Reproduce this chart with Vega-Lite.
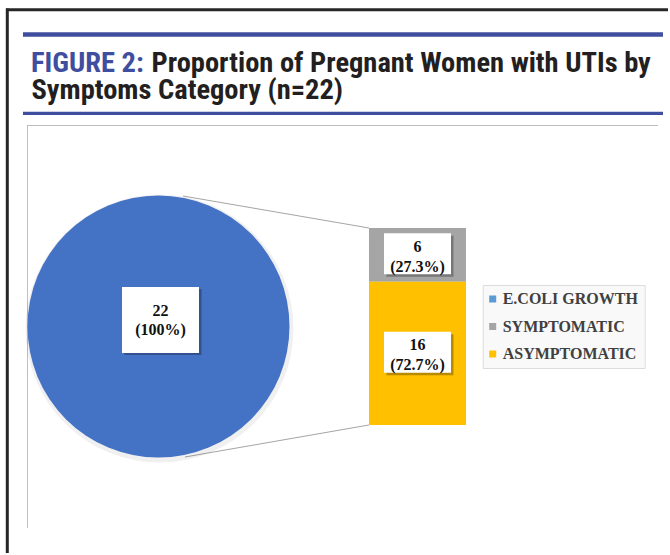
{
  "$schema": "https://vega.github.io/schema/vega-lite/v6.json",
  "width": 670,
  "height": 555,
  "autosize": {"type": "none"},
  "padding": 0,
  "background": "white",
  "config": {"view": {"stroke": null}, "axis": {"disable": true, "domain": false, "ticks": false, "labels": false, "grid": false, "titleOpacity": 0}},
  "data": {
    "values": [
      {"category": "E.COLI GROWTH", "group": "E.COLI GROWTH", "count": 22, "pct": "(100%)"},
      {"category": "SYMPTOMATIC", "group": "BY SYMPTOMS", "count": 6, "pct": "(27.3%)"},
      {"category": "ASYMPTOMATIC", "group": "BY SYMPTOMS", "count": 16, "pct": "(72.7%)"}
    ]
  },
  "encoding": {
    "x": {
      "field": "group", "type": "nominal", "axis": null,
      "scale": {"domain": ["E.COLI GROWTH", "BY SYMPTOMS"], "paddingInner": 0.6255, "paddingOuter": 0.6062, "align": 0.3503}
    }
  },
  "layer": [
    {
      "data": {"values": [{}]},
      "mark": {"type": "rule", "color": "#262626", "strokeWidth": 3, "xOffset": -152.5, "x2Offset": 250.5, "yOffset": -218.3},
      "encoding": {
        "x": {"datum": "E.COLI GROWTH", "type": "nominal"},
        "x2": {"datum": "BY SYMPTOMS"},
        "y": {"datum": 22, "type": "quantitative", "axis": null}
      }
    },
    {
      "data": {"values": [{}]},
      "mark": {"type": "rule", "color": "#262626", "strokeWidth": 3, "xOffset": -151.2, "yOffset": -219.5, "y2Offset": 128},
      "encoding": {
        "x": {"datum": "E.COLI GROWTH", "type": "nominal"},
        "y": {"datum": 22, "type": "quantitative", "axis": null},
        "y2": {"datum": 0}
      }
    },
    {
      "data": {"values": [{}]},
      "mark": {"type": "rule", "color": "#3f4e9e", "strokeWidth": 4.5, "xOffset": -135.5, "x2Offset": 245.5, "yOffset": -193.6},
      "encoding": {
        "x": {"datum": "E.COLI GROWTH", "type": "nominal"},
        "x2": {"datum": "BY SYMPTOMS"},
        "y": {"datum": 22, "type": "quantitative", "axis": null}
      }
    },
    {
      "data": {"values": [{}]},
      "mark": {"type": "rule", "color": "#3f4e9e", "strokeWidth": 3.3, "xOffset": -135.5, "x2Offset": 245.5, "yOffset": -114.7},
      "encoding": {
        "x": {"datum": "E.COLI GROWTH", "type": "nominal"},
        "x2": {"datum": "BY SYMPTOMS"},
        "y": {"datum": 22, "type": "quantitative", "axis": null}
      }
    },
    {
      "data": {"values": [{}]},
      "mark": {"type": "rule", "color": "#bfbfbf", "strokeWidth": 1, "xOffset": -131.5, "x2Offset": 240.5, "yOffset": -102.5},
      "encoding": {
        "x": {"datum": "E.COLI GROWTH", "type": "nominal"},
        "x2": {"datum": "BY SYMPTOMS"},
        "y": {"datum": 22, "type": "quantitative", "axis": null}
      }
    },
    {
      "data": {"values": [{}]},
      "mark": {"type": "rule", "color": "#bfbfbf", "strokeWidth": 1, "xOffset": -131, "yOffset": -103, "y2Offset": 103},
      "encoding": {
        "x": {"datum": "E.COLI GROWTH", "type": "nominal"},
        "y": {"datum": 22, "type": "quantitative", "axis": null},
        "y2": {"datum": 0}
      }
    },
    {
      "data": {"values": [{}]},
      "mark": {"type": "text", "text": "FIGURE 2:", "font": "Liberation Sans Narrow, Roboto Condensed, DejaVu Sans Condensed, sans-serif", "fontSize": 28.5, "fontWeight": "bold", "color": "#3f4e9e", "align": "left", "baseline": "alphabetic", "xOffset": -127.5, "yOffset": -156},
      "encoding": {
        "x": {"datum": "E.COLI GROWTH", "type": "nominal"},
        "y": {"datum": 22, "type": "quantitative", "axis": null}
      }
    },
    {
      "data": {"values": [{}]},
      "mark": {"type": "text", "text": "Proportion of Pregnant Women with UTIs by", "font": "Liberation Sans Narrow, Roboto Condensed, DejaVu Sans Condensed, sans-serif", "fontSize": 28.5, "fontWeight": "bold", "color": "#231f20", "align": "left", "baseline": "alphabetic", "xOffset": -7, "yOffset": -156},
      "encoding": {
        "x": {"datum": "E.COLI GROWTH", "type": "nominal"},
        "y": {"datum": 22, "type": "quantitative", "axis": null}
      }
    },
    {
      "data": {"values": [{}]},
      "mark": {"type": "text", "text": "Symptoms Category (n=22)", "font": "Liberation Sans Narrow, Roboto Condensed, DejaVu Sans Condensed, sans-serif", "fontSize": 28.5, "fontWeight": "bold", "color": "#231f20", "align": "left", "baseline": "alphabetic", "xOffset": -127, "yOffset": -129},
      "encoding": {
        "x": {"datum": "E.COLI GROWTH", "type": "nominal"},
        "y": {"datum": 22, "type": "quantitative", "axis": null}
      }
    },
    {
      "data": {"values": [{}]},
      "mark": {"type": "rule", "color": "#a5a5a5", "strokeWidth": 1, "xOffset": 24.5, "yOffset": -130.5, "x2Offset": -48.5},
      "encoding": {
        "x": {"datum": "E.COLI GROWTH", "type": "nominal"},
        "x2": {"datum": "BY SYMPTOMS"},
        "y": {"datum": 11, "type": "quantitative", "axis": null},
        "y2": {"datum": 22}
      }
    },
    {
      "data": {"values": [{}]},
      "mark": {"type": "rule", "color": "#a5a5a5", "strokeWidth": 1, "xOffset": 26.5, "yOffset": 130.5, "x2Offset": -48.5},
      "encoding": {
        "x": {"datum": "E.COLI GROWTH", "type": "nominal"},
        "x2": {"datum": "BY SYMPTOMS"},
        "y": {"datum": 11, "type": "quantitative", "axis": null},
        "y2": {"datum": 0}
      }
    },
    {
      "transform": [{"filter": "datum.group == 'BY SYMPTOMS'"}],
      "mark": {"type": "bar"},
      "encoding": {
        "y": {
          "field": "count", "type": "quantitative", "stack": "zero", "axis": null,
          "scale": {"domain": [-14.518, 47.462], "nice": false, "zero": false}
        },
        "color": {
          "field": "category", "type": "nominal",
          "scale": {"domain": ["E.COLI GROWTH", "SYMPTOMATIC", "ASYMPTOMATIC"], "range": ["#5B9BD5", "#A5A5A5", "#FFC000"]},
          "legend": {
            "orient": "none", "legendX": 482.7, "legendY": 285, "direction": "vertical", "title": null,
            "padding": 6, "fillColor": "#f9f9f9", "strokeColor": "#dcdcdc",
            "symbolType": "square", "symbolSize": 49, "symbolStrokeWidth": 0, "symbolOpacity": 1, "symbolOffset": -4,
            "labelFont": "Liberation Serif", "labelFontSize": 16, "labelFontWeight": "bold", "labelColor": "#404040",
            "rowPadding": 11.5, "labelOffset": 2
          }
        },
        "order": {"field": "category", "type": "nominal", "sort": "ascending"}
      }
    },
    {
      "transform": [
        {"stack": "count", "groupby": ["group"], "sort": [{"field": "category", "order": "ascending"}], "as": ["y0", "y1"]},
        {"fold": ["y0", "y1"], "as": ["edge", "ypos"]},
        {"aggregate": [{"op": "mean", "field": "ypos", "as": "ymid"}], "groupby": ["category", "group", "count", "pct"]}
      ],
      "encoding": {
        "y": {"field": "ymid", "type": "quantitative", "axis": null}
      },
      "layer": [
        {
          "transform": [{"filter": "datum.group == 'E.COLI GROWTH'"}],
          "mark": {"type": "arc", "radius": 134, "color": "#000000", "opacity": 0.06, "xOffset": 1, "yOffset": 2},
          "encoding": {"theta": {"field": "count", "type": "quantitative"}}
        },
        {
          "transform": [{"filter": "datum.group == 'E.COLI GROWTH'"}],
          "mark": {"type": "arc", "radius": 131, "color": "#4472C4"},
          "encoding": {"theta": {"field": "count", "type": "quantitative"}}
        },
        {
          "transform": [{"filter": "datum.group == 'BY SYMPTOMS'"}],
          "mark": {"type": "point", "shape": "M-1,-0.612H1V0.612H-1Z", "size": 4489, "filled": true, "color": "#000000", "opacity": 0.28, "strokeWidth": 0, "xOffset": 2.5, "yOffset": 1.5},
          "encoding": {"y": {"field": "ymid", "type": "quantitative", "axis": null}}
        },
        {
          "transform": [{"filter": "datum.group == 'BY SYMPTOMS'"}],
          "mark": {"type": "point", "shape": "M-1,-0.612H1V0.612H-1Z", "size": 4489, "filled": true, "color": "#ffffff", "opacity": 1, "strokeWidth": 0, "yOffset": -1},
          "encoding": {"y": {"field": "ymid", "type": "quantitative", "axis": null}}
        },
        {
          "transform": [{"filter": "datum.group == 'E.COLI GROWTH'"}],
          "mark": {"type": "point", "shape": "M-1,-0.857H1V0.857H-1Z", "size": 5929, "filled": true, "color": "#000000", "opacity": 0.28, "strokeWidth": 0, "xOffset": 4.5, "yOffset": -4.5},
          "encoding": {"y": {"field": "ymid", "type": "quantitative", "axis": null}}
        },
        {
          "transform": [{"filter": "datum.group == 'E.COLI GROWTH'"}],
          "mark": {"type": "point", "shape": "M-1,-0.857H1V0.857H-1Z", "size": 5929, "filled": true, "color": "#ffffff", "opacity": 1, "strokeWidth": 0, "xOffset": 2, "yOffset": -6.6},
          "encoding": {"y": {"field": "ymid", "type": "quantitative", "axis": null}}
        },
        {
          "transform": [{"filter": "datum.group == 'BY SYMPTOMS'"}],
          "mark": {"type": "text", "font": "Liberation Serif", "fontWeight": "bold", "fontSize": 16, "color": "#111111", "baseline": "alphabetic", "align": "center", "yOffset": -3},
          "encoding": {"text": {"field": "count", "type": "quantitative"}}
        },
        {
          "transform": [{"filter": "datum.group == 'BY SYMPTOMS'"}],
          "mark": {"type": "text", "font": "Liberation Serif", "fontWeight": "bold", "fontSize": 16, "color": "#111111", "baseline": "alphabetic", "align": "center", "yOffset": 17},
          "encoding": {"text": {"field": "pct", "type": "nominal"}}
        },
        {
          "transform": [{"filter": "datum.group == 'E.COLI GROWTH'"}],
          "mark": {"type": "text", "font": "Liberation Serif", "fontWeight": "bold", "fontSize": 16, "color": "#111111", "baseline": "alphabetic", "align": "center", "xOffset": 2, "yOffset": -10.5},
          "encoding": {"text": {"field": "count", "type": "quantitative"}}
        },
        {
          "transform": [{"filter": "datum.group == 'E.COLI GROWTH'"}],
          "mark": {"type": "text", "font": "Liberation Serif", "fontWeight": "bold", "fontSize": 16, "color": "#111111", "baseline": "alphabetic", "align": "center", "xOffset": 2, "yOffset": 8.5},
          "encoding": {"text": {"field": "pct", "type": "nominal"}}
        }
      ]
    }
  ]
}
